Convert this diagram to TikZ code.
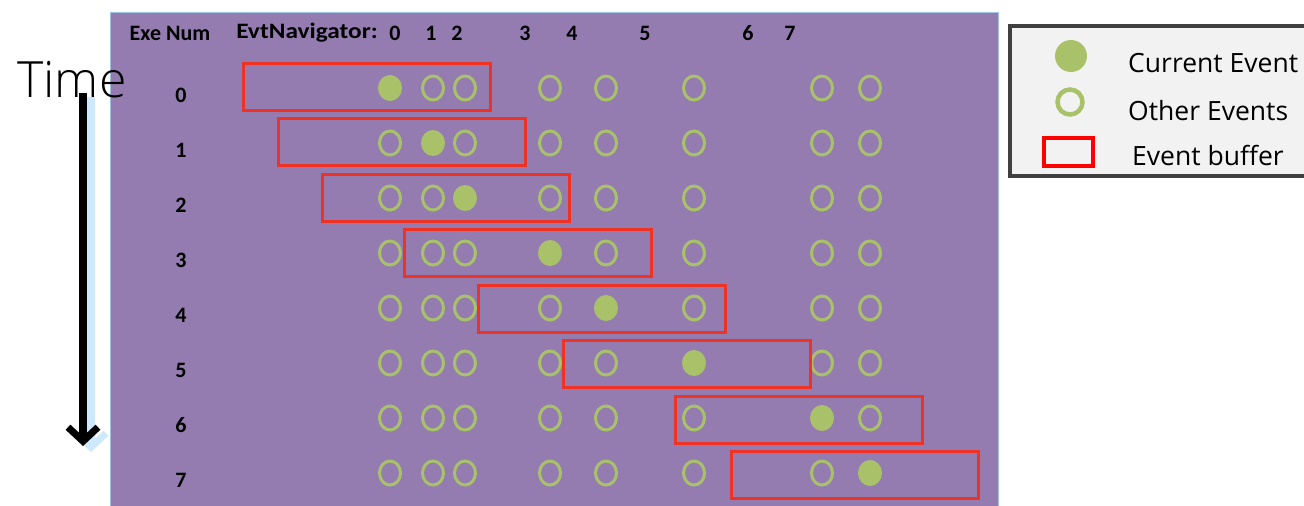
\documentclass[tikz,border=0pt]{standalone}
\usepackage{fontspec}
\setmainfont{Carlito}
\newfontfamily\legfont{Open Sans}
\newfontfamily\legfontlight{Open Sans Light}
\usetikzlibrary{arrows.meta}
\definecolor{panel}{HTML}{947CB0}
\definecolor{panelline}{HTML}{9DC3E6}
\definecolor{evgreen}{HTML}{A9C26A}
\definecolor{bufred}{HTML}{EE3324}
\definecolor{legbg}{HTML}{F2F2F2}
\definecolor{legline}{HTML}{404040}
\definecolor{shadowblue}{HTML}{CDE9FB}
\tikzset{
  hdr/.style={font=\bfseries\fontsize{22}{22}\selectfont, text=black, inner sep=0pt},
  rowlbl/.style={font=\bfseries\fontsize{22}{22}\selectfont, text=black, inner sep=0pt},
  bufbox/.style={draw=bufred, line width=3pt, minimum width=247pt, minimum height=47pt, inner sep=0pt},
  legtext/.style={font=\legfont\fontsize{26.5}{26.5}\selectfont, text=black, anchor=west, inner sep=0pt},
}
\begin{document}
\begin{tikzpicture}[x=1pt,y=-1pt]
\useasboundingbox (0,0) rectangle (1304,506);
\fill[white] (0,0) rectangle (1304,506);
% panel
\draw[fill=panel, draw=panelline, line width=1pt] (110,12) rectangle (998,510);
% header
\node[hdr] (hexe) at (170,33) {Exe Num};
\node[hdr, xscale=1.15] (hnav) at (307,33) {EvtNavigator:};
\foreach \lab/\xx in {0/395,1/431,2/457,3/525,4/572,5/645,6/748,7/790}
  \node[hdr] (h\lab) at (\xx,33) {\lab};
% circles
\foreach \r in {0,...,7}{
  \pgfmathsetmacro{\yy}{88+55*\r}
  \node[rowlbl] (lbl\r) at (181,\yy+7) {\r};
  \foreach \xx [count=\k from 0] in {390,433,465,550,606,694,822,870}{
    \ifnum\k=\r
      \fill[evgreen] (\xx,\yy) ellipse [x radius=12pt, y radius=13pt];
    \else
      \draw[evgreen, line width=3pt] (\xx,\yy) ellipse [x radius=10.5pt, y radius=12pt];
    \fi
  }
}
% buffers
\foreach \r/\cx in {0/366.5,1/401.5,2/446,3/528,4/602,5/686.5,6/798.5,7/854.5}{
  \pgfmathsetmacro{\cy}{86.5+55.5*\r}
  \node[bufbox] (buf\r) at (\cx,\cy) {};
}
% time arrow
\node[font=\legfontlight\fontsize{50}{50}\selectfont, inner sep=0pt] (time) at (72,80) {Time};
\coordinate (ts) at (91,97);
\coordinate (te) at (91,452);
\draw[shadowblue, line width=8pt, -{Straight Barb[length=14pt,width=30pt,line width=7pt]}] (ts) -- (te);
\coordinate (as) at (83,93);
\coordinate (ae) at (83,446);
\draw[black, line width=8pt, -{Straight Barb[length=14pt,width=30pt,line width=7pt]}] (as) -- (ae);
% legend
\draw[fill=legbg, draw=legline, line width=4.5pt] (1010,26) rectangle (1312,176);
\fill[evgreen] (1071,56) circle (16pt);
\draw[evgreen, line width=4.5pt] (1070,102) circle (12.5pt);
\draw[red, line width=4.5pt] (1044,138) rectangle (1093,166);
\node[legtext] (lcur) at (1128,63) {Current Event};
\node[legtext] (loth) at (1128,111) {Other Events};
\node[legtext] (lbuf) at (1132,155) {Event buffer};
\end{tikzpicture}
\end{document}
